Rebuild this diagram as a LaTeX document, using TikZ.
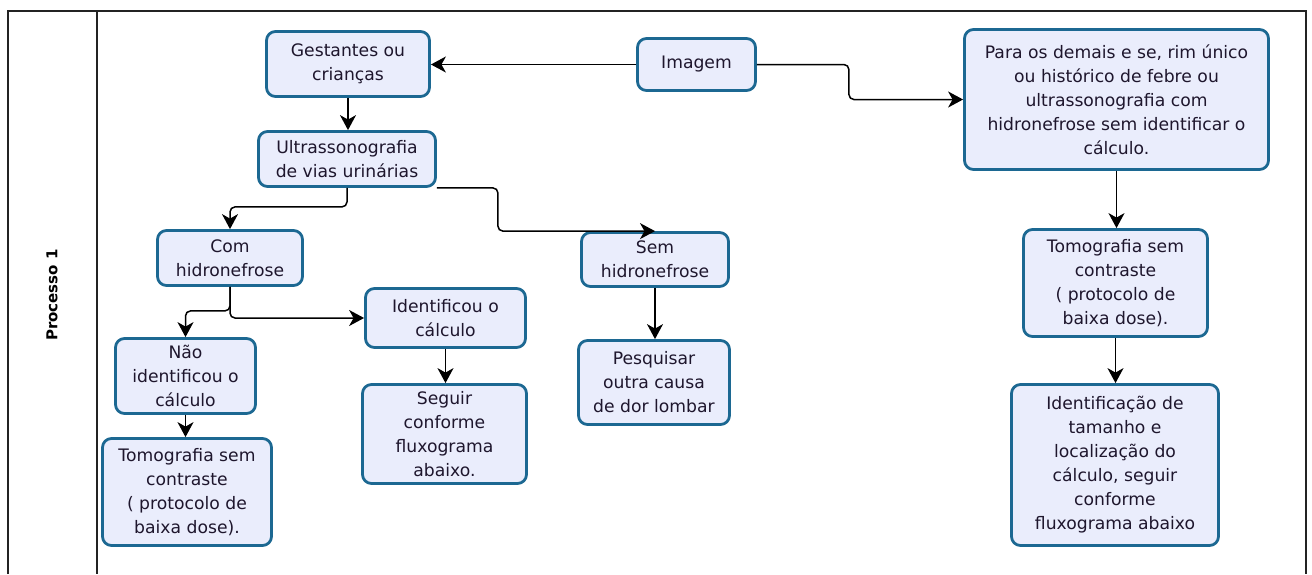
\documentclass[tikz,border=0pt]{standalone}
\usepackage{fontspec}
\setmainfont{DejaVu Sans}
\usetikzlibrary{arrows.meta}
\definecolor{boxfill}{RGB}{234,237,252}
\definecolor{boxborder}{RGB}{28,104,146}
\definecolor{txt}{RGB}{30,22,45}
\definecolor{frame}{RGB}{35,35,35}
\tikzset{
  flowbox/.style={draw=boxborder, fill=boxfill, line width=2.8pt, rounded corners=9pt,
    align=center, inner sep=0pt, text=txt, font=\fontsize{17.2}{24}\selectfont},
  conn/.style={draw=black, line width=1.5pt, rounded corners=5pt,
    -{Stealth[length=15pt,width=16pt,inset=4.5pt]}},
  lanelabel/.style={font=\bfseries\fontsize{15}{18}\selectfont, text=black, rotate=90},
}
\begin{document}
\begin{tikzpicture}[x=1pt,y=-1pt]
\useasboundingbox (0,0) rectangle (1312,574);
% frame
\draw[frame, line width=1.8pt] (8,574) -- (8,11) -- (1306,11) -- (1306,574);
\draw[frame, line width=1.8pt] (97,11) -- (97,574);
\node[lanelabel] (lane) at (52,295) {Processo 1};

% nodes
\node[flowbox, minimum width=163pt, minimum height=65pt] (gest) at (348,64) {Gestantes ou\\crianças};
\node[flowbox, minimum width=177pt, minimum height=55pt] (ultra) at (347,159) {Ultrassonografia\\de vias urinárias};
\node[flowbox, minimum width=118pt, minimum height=52pt] (imag) at (696.5,64.5) {Imagem};
\node[flowbox, minimum width=304pt, minimum height=140pt] (para) at (1116.5,99.5) {Para os demais e se, rim único\\ou histórico de febre ou\\ultrassonografia com\\hidronefrose sem identificar o\\cálculo.};
\node[flowbox, minimum width=145pt, minimum height=55pt] (com) at (230,258) {Com\\hidronefrose};
\node[flowbox, minimum width=147pt, minimum height=54pt] (sem) at (655,259.5) {Sem\\hidronefrose};
\node[flowbox, minimum width=160pt, minimum height=59pt] (ident) at (445.5,318) {Identificou o\\cálculo};
\node[flowbox, minimum width=140pt, minimum height=75pt] (nao) at (185.5,376) {Não\\identificou o\\cálculo};
\node[flowbox, minimum width=169pt, minimum height=107pt] (tomoL) at (187,492) {Tomografia sem\\contraste\\( protocolo de\\baixa dose).};
\node[flowbox, minimum width=164pt, minimum height=99pt] (seguir) at (444.5,434) {Seguir\\conforme\\fluxograma\\abaixo.};
\node[flowbox, minimum width=151pt, minimum height=84pt] (pesq) at (654,382.5) {Pesquisar\\outra causa\\de dor lombar};
\node[flowbox, minimum width=184pt, minimum height=107pt] (tomoR) at (1115.5,283) {Tomografia sem\\contraste\\( protocolo de\\baixa dose).};
\node[flowbox, minimum width=207pt, minimum height=161pt] (identif) at (1115,465) {Identificação de\\tamanho e\\localização do\\cálculo, seguir\\conforme\\fluxograma abaixo};

% connectors
\draw[conn] (imag.west) -- (imag.west -| gest.east);
\draw[conn] (imag.east) -- ++(92,0) |- (para.west);
\draw[conn] (gest.south) -- (gest.south |- ultra.north);
\draw[conn] (ultra.south) -- ++(0,19) -| (com.north);
\draw[conn] (ultra.south east) -- ++(61,0) |- (sem.north);
\draw[conn] (com.south) -- ++(0,24) -| (nao.north);
\draw[conn] (com.south) |- (ident.west);
\draw[conn] (ident.south) -- (ident.south |- seguir.north);
\draw[conn] (nao.south) -- (nao.south |- tomoL.north);
\draw[conn] (sem.south) -- (sem.south |- pesq.north);
\draw[conn] (para.south) -- (para.south |- tomoR.north);
\draw[conn] (tomoR.south) -- (tomoR.south |- identif.north);
\end{tikzpicture}
\end{document}
